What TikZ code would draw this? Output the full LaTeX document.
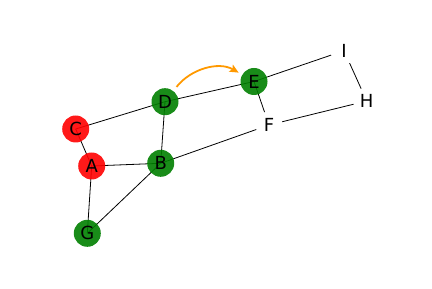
\documentclass[tikz,border=0pt]{standalone}
\usepackage{fontspec}
\setmainfont{DejaVu Sans}
\usetikzlibrary{arrows.meta}
\definecolor{nred}{RGB}{255,0,0}
\definecolor{ngreen}{RGB}{0,128,0}
\definecolor{norange}{RGB}{255,153,0}
\tikzset{
  vtx/.style={circle, minimum size=27pt, inner sep=0pt, font=\fontsize{18}{20}\selectfont},
  rednode/.style={vtx, fill=nred, fill opacity=0.9, text opacity=1},
  greennode/.style={vtx, fill=ngreen, fill opacity=0.9, text opacity=1},
  plainnode/.style={vtx, fill=white},
  edge/.style={draw=black, line width=0.8pt},
  hl/.style={draw=norange, line width=1.8pt, -{Stealth[length=9pt,width=8pt,inset=2pt]}}
}
\begin{document}
\begin{tikzpicture}[x=1pt,y=1pt]
\useasboundingbox (0,0) rectangle (432,289);
\coordinate (pC) at (75.7,160);
\coordinate (pA) at (91.7,123);
\coordinate (pG) at (87.3,55.7);
\coordinate (pB) at (160.7,125.7);
\coordinate (pD) at (165,187.3);
\coordinate (pE) at (254,207.5);
\coordinate (pF) at (269,164);
\coordinate (pH) at (366.7,188);
\coordinate (pI) at (344,238.3);
% edges
\draw[edge] (pC) -- (pD);
\draw[edge] (pC) -- (pA);
\draw[edge] (pA) -- (pB);
\draw[edge] (pA) -- (pG);
\draw[edge] (pG) -- (pB);
\draw[edge] (pB) -- (pD);
\draw[edge] (pB) -- (pF);
\draw[edge] (pD) -- (pE);
\draw[edge] (pE) -- (pI);
\draw[edge] (pE) -- (pF);
\draw[edge] (pF) -- (pH);
\draw[edge] (pI) -- (pH);
% nodes
\node[rednode] (C) at (pC) {C};
\node[rednode] (A) at (pA) {A};
\node[greennode] (G) at (pG) {G};
\node[greennode] (B) at (pB) {B};
\node[greennode] (D) at (pD) {D};
\node[greennode] (E) at (pE) {E};
\node[plainnode] (F) at (pF) {F};
\node[plainnode] (H) at (pH) {H};
\node[plainnode] (I) at (pI) {I};
% highlighted arrow
\draw[hl, shorten <=5pt, shorten >=4pt] (D) to[out=52, in=150] (E);
\end{tikzpicture}
\end{document}
